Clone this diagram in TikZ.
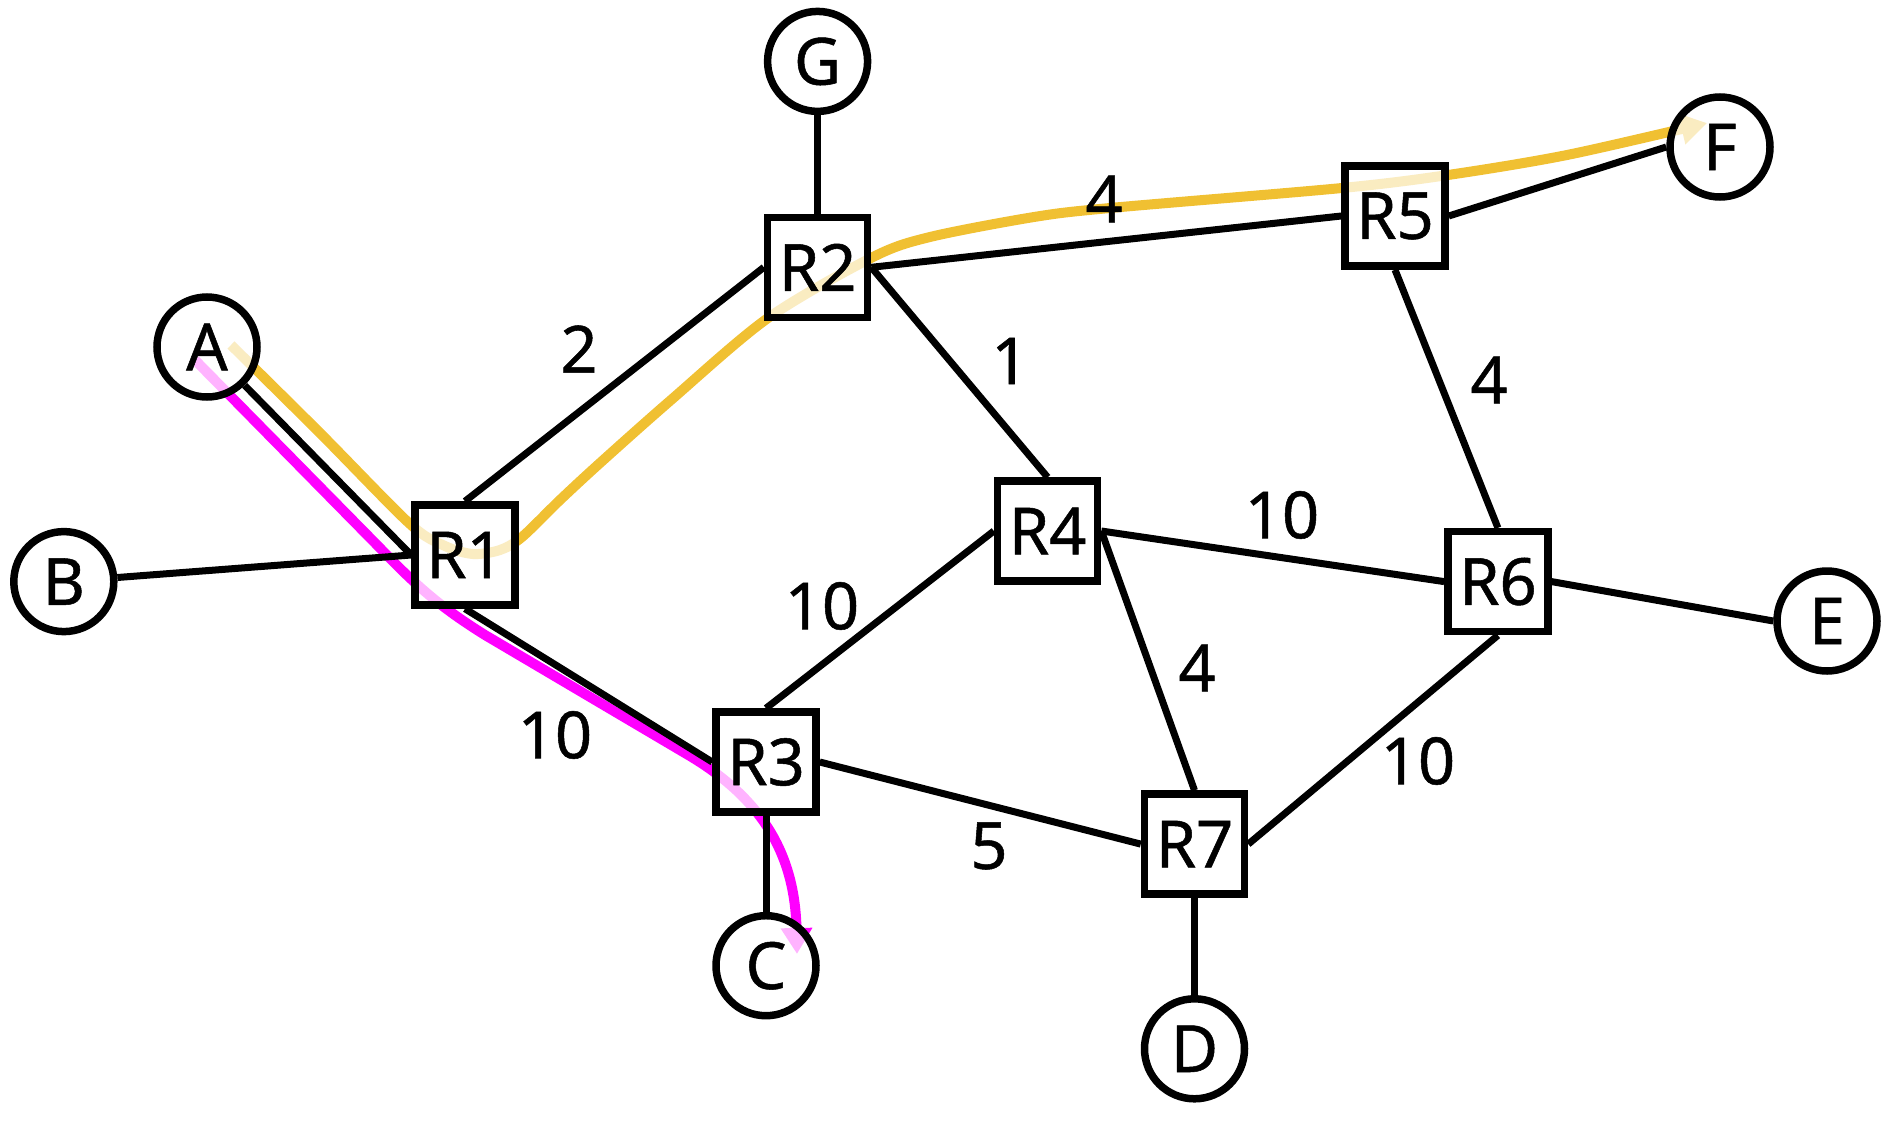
\documentclass[tikz,border=0pt]{standalone}
\usepackage{fontspec}
\setmainfont{Noto Sans}[FakeBold=0.8]
\usetikzlibrary{arrows.meta}
\definecolor{pathyellow}{RGB}{240,192,50}
\definecolor{pathmagenta}{RGB}{255,0,255}
\pgfdeclarelayer{routes}
\pgfdeclarelayer{links}
\pgfsetlayers{routes,links,main}
\begin{document}
\begin{tikzpicture}[x=1pt,y=-1pt,
  every node/.style={font=\fontsize{65}{78}\selectfont\bfseries, inner sep=0pt},
  router/.style={draw, rectangle, line width=7.5pt, minimum size=100pt, fill=white, fill opacity=0.7, text opacity=1},
  host/.style={draw, circle, line width=7.5pt, minimum size=100pt, fill=white, fill opacity=0.7, text opacity=1},
  link/.style={line width=7pt},
  route/.style={line width=10pt, -{Triangle[length=26pt,width=30pt]}},
  weight/.style={}]
\useasboundingbox (0,0) rectangle (1888,1127);

% nodes
\node[host]   (G)  at (817.6,61.4)  {G};
\node[router] (R2) at (817.6,267.3) {R2};
\node[host]   (A)  at (207,347)     {A};
\node[router] (R1) at (465,555)     {R1};
\node[host]   (B)  at (63.8,581.6)  {B};
\node[router] (R4) at (1047.6,531)  {R4};
\node[router] (R5) at (1395,216)    {R5};
\node[host]   (F)  at (1720,147)    {F};
\node[router] (R6) at (1497.9,581.6) {R6};
\node[host]   (E)  at (1827,621)    {E};
\node[router] (R3) at (766,762)     {R3};
\node[host]   (C)  at (766,965.7)   {C};
\node[router] (R7) at (1194.5,844.1) {R7};
\node[host]   (D)  at (1194.5,1048.8) {D};

% weights
\node[weight] (w12) at (579,349)  {2};
\node[weight] (w24) at (1010,361) {1};
\node[weight] (w25) at (1104,199) {4};
\node[weight] (w56) at (1489,380) {4};
\node[weight] (w46) at (1282,515) {10};
\node[weight] (w34) at (822,606)  {10};
\node[weight] (w47) at (1197,668) {4};
\node[weight] (w13) at (555,735)  {10};
\node[weight] (w37) at (989,846)  {5};
\node[weight] (w67) at (1418,761) {10};

\begin{pgfonlayer}{links}
\draw[link] (G.south) -- (R2.north);
\draw[link] (R2.east) -- (R5.west);
\draw[link] (R5.east) -- (F.west);
\draw[link] (R2.west) -- (R1.north);
\draw[link] (R2.east) -- (R4.north);
\draw[link] (A) -- (R1.west);
\draw[link] (B) -- (R1.west);
\draw[link] (R1.south) -- (R3.west);
\draw[link] (R3.north) -- (R4.west);
\draw[link] (R4.east) -- (R6.west);
\draw[link] (R4.east) -- (R7.north);
\draw[link] (R5.south) -- (R6.north);
\draw[link] (R6.east) -- (E.west);
\draw[link] (R6.south) -- (R7.east);
\draw[link] (R3.east) -- (R7.west);
\draw[link] (R3.south) -- (C.north);
\draw[link] (R7.south) -- (D.north);
\end{pgfonlayer}

\begin{pgfonlayer}{routes}
\draw[route, pathyellow] plot[smooth, tension=0.5] coordinates {(231,345) (320,433) (410,524) (445,546) (473,554) (500,550) (522,537) (560,500) (600,463) (671,400) (768,318) (873,257) (930,237) (1034,217) (1110,208) (1342,188) (1448,175) (1567,155) (1707,123)};
\draw[route, pathmagenta] (195,360) -- (380,548) .. controls (420,590) and (445,610) .. (485,635) -- (690,756) .. controls (760,798) and (795,852) .. (797,954);
\end{pgfonlayer}
\end{tikzpicture}
\end{document}
